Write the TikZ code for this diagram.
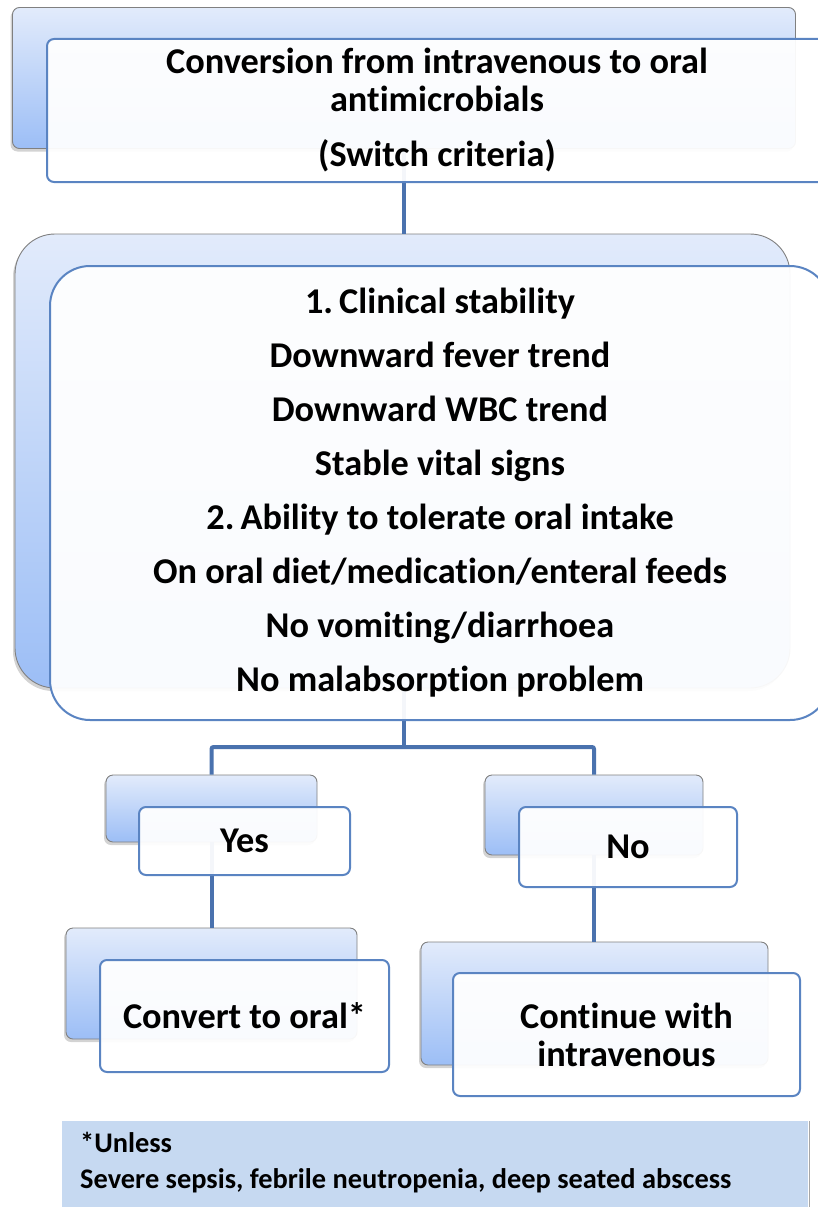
\documentclass[tikz,border=0pt]{standalone}
\usepackage{fontspec}
\setmainfont{Carlito}[Ligatures=NoCommon]
\usetikzlibrary{shadows}

\definecolor{edgeblue}{HTML}{5A84C2}
\definecolor{linkblue}{HTML}{4A72AE}
\definecolor{shadetop}{HTML}{E2EBFB}
\definecolor{shadebot}{HTML}{9CBEF6}
\definecolor{notefill}{HTML}{C6D9F1}

\tikzset{
  backbox/.style={draw=black!50, line width=0.9pt, top color=shadetop,
    bottom color=shadebot, rounded corners=7pt, inner sep=0pt,
    drop shadow={shadow xshift=-2pt, shadow yshift=-3pt, opacity=0.35}},
  frontbox/.style={draw=edgeblue, line width=2pt, fill=white,
    fill opacity=0.94, text opacity=1, rounded corners=7pt, inner sep=0pt,
    align=center, font=\bfseries\fontsize{36.3}{38}\selectfont},
  link/.style={draw=linkblue, line width=4pt, rounded corners=2pt},
  notebox/.style={fill=notefill, inner sep=0pt},
  notetext/.style={align=left, inner sep=0pt, font=\bfseries\fontsize{28.4}{36}\selectfont},
}

\begin{document}
\begin{tikzpicture}[x=1pt,y=-1pt]
\useasboundingbox (0,0) rectangle (817,1207);

% shaded back plates
\node[backbox, minimum width=783pt, minimum height=141pt] (topback) at (404,78) {};
\node[backbox, rounded corners=40pt, minimum width=775pt, minimum height=454pt] (critback) at (402.5,461) {};
\node[backbox, minimum width=211pt, minimum height=67pt] (yesback) at (211.5,808.5) {};
\node[backbox, minimum width=218pt, minimum height=80pt] (noback) at (594,815) {};
\node[backbox, minimum width=291pt, minimum height=111pt] (convback) at (211.5,983.5) {};
\node[backbox, minimum width=347pt, minimum height=123pt] (contback) at (594.5,1003.5) {};

% connectors
\coordinate (fork) at (404,747);
\draw[link] (topback.south) -- (topback.south |- critback.north);
\draw[link] (fork |- critback.south) -- (fork);
\draw[link] (yesback.north) |- (fork) -| (noback.north);
\draw[link] (yesback.south) -- (convback.north);
\draw[link] (noback.south) -- (noback.south |- contback.north);

% white front cards with the text
\node[frontbox, minimum width=780pt, minimum height=143pt] (topfront) at (437,110.5)
  {Conversion from intravenous to oral\\antimicrobials\\[17pt](Switch criteria)};
\node[frontbox, rounded corners=40pt, minimum width=780pt, minimum height=454pt,
  font=\bfseries\fontsize{36.3}{54}\selectfont] (critfront) at (440,493)
  {1.\,Clinical stability\\Downward fever trend\\Downward WBC trend\\Stable vital signs\\
   2.\,Ability to tolerate oral intake\\On oral diet/medication/enteral feeds\\
   No vomiting/diarrhoea\\No malabsorption problem};
\node[frontbox, minimum width=211pt, minimum height=68pt] (yesfront) at (244.5,841) {Yes};
\node[frontbox, minimum width=218pt, minimum height=80pt] (nofront) at (628,847) {No};
\node[frontbox, minimum width=289pt, minimum height=112pt] (convfront) at (244.5,1016) {Convert to oral*};
\node[frontbox, minimum width=347pt, minimum height=123pt] (contfront) at (626.5,1034.5)
  {Continue with\\intravenous};

% footnote
\node[notebox, minimum width=746pt, minimum height=86pt] (note) at (435,1164) {};
\node[notetext, anchor=west] (notetxt) at (80,1163)
  {*Unless\\Severe sepsis, febrile neutropenia, deep seated abscess};
\draw[black!35, line width=1pt] ([xshift=1pt]note.north east) -- ([xshift=1pt]note.south east);
\end{tikzpicture}
\end{document}
